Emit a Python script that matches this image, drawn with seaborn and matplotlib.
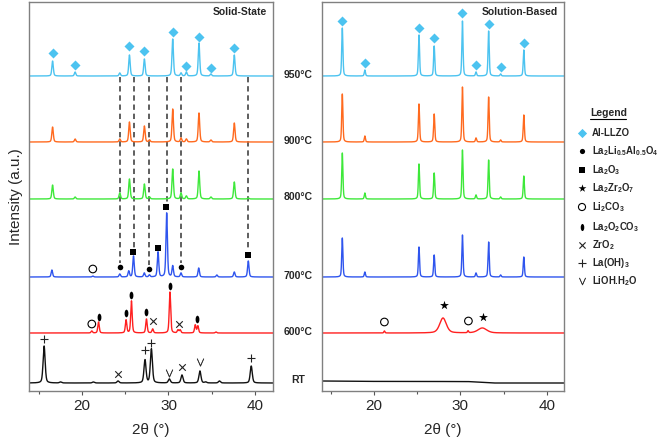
import numpy as np
import pandas as pd
import matplotlib
matplotlib.use("Agg")
import matplotlib.pyplot as plt
import matplotlib.path as mpath
from matplotlib.transforms import Affine2D
import seaborn as sns

# ---- stacking / colours (one entry per pattern, top to bottom) ----
temps = ["950°C", "900°C", "800°C", "700°C", "600°C", "RT"]
colors = ["#4cc3f0", "#ff6a1f", "#3ee83a", "#2f55ee", "#ff2020", "#111111"]
offsets = [315, 249, 192, 114, 58, 8]

# ---- solid-state peaks (2theta, height) ----
ss_950_pos = [16.58, 19.19, 24.36, 25.48, 27.21, 30.49, 31.45, 32.07, 33.53, 34.91, 37.62]
ss_950_h = [15, 4, 3, 21, 17, 37, 3, 4, 33, 2, 21]
ss_900_pos = [16.58, 19.19, 24.36, 25.48, 27.21, 27.8, 30.49, 31.45, 32.07, 33.53, 34.91, 37.62]
ss_900_h = [15, 3, 3, 20, 16, 2, 33, 4, 3, 29, 2, 19]
ss_800_pos = [16.58, 19.19, 24.36, 25.48, 27.21, 27.8, 30.49, 31.45, 32.07, 33.53, 34.91, 37.62, 39.24]
ss_800_h = [14, 2, 6, 20, 15, 2, 30, 6, 3, 28, 2, 17, 1]
ss_700_pos = [16.5, 21.24, 24.36, 25.4, 25.95, 27.2, 27.79, 28.79, 29.79, 30.49, 31.45, 33.5, 35.6, 37.62, 39.24]
ss_700_h = [7, 1, 3, 6, 21, 4, 2, 25, 64, 11, 4, 9, 2, 5, 16]
ss_600_pos = [21.12, 21.9, 25.09, 25.71, 27.45, 28.17, 30.17, 31.1, 31.35, 33.1, 33.4, 35.5]
ss_600_h = [2, 11, 13, 32, 14, 4, 41, 3, 3, 8, 7, 1]
ss_rt_pos = [15.6, 17.5, 21.3, 24.16, 27.28, 28.02, 30.1, 31.56, 33.64, 34.3, 35.9, 39.58]
ss_rt_h = [37, 1, 1, 2, 23, 34, 4, 8, 12, 1, 2, 17]

# ---- solution-based peaks ----
sb_llzo_pos = [16.35, 18.96, 25.22, 26.98, 30.25, 31.82, 33.28, 34.67, 37.35]
sb_950_h = [48, 6, 41, 30, 55, 4, 45, 2, 26]
sb_900_h = [48, 6, 38, 28, 55, 4, 45, 2, 27]
sb_800_h = [46, 6, 35, 26, 49, 4, 39, 2, 23]
sb_700_h = [39, 5, 30, 22, 42, 4, 35, 2, 20]
sb_600_pos = [21.22, 28.0, 30.9, 32.55]
sb_600_h = [2, 15, 2, 5]
sb_600_w = [0.15, 0.9, 0.15, 1.2]
sb_rt_bg_x = [14.0, 20.0, 28.0, 31.0, 34.0, 42.0]
sb_rt_bg_y = [2.0, 1.6, 1.5, 1.4, 0.0, 0.0]

# ---- phase markers (2theta, height above that pattern's baseline) ----
ss_llzo_x = [16.58, 19.19, 25.48, 27.21, 30.49, 32.07, 33.53, 34.91, 37.62]
ss_llzo_y = [23, 11, 30, 25, 44, 10, 39, 8, 28]
sb_llzo_x = [16.35, 18.96, 25.22, 26.98, 30.25, 31.82, 33.28, 34.67, 37.35]
sb_llzo_y = [55, 13, 48, 38, 63, 11, 52, 9, 33]
ss_lialo_x = [24.36, 27.79, 31.45]
ss_lialo_y = [10, 8, 10]
ss_la2o3_x = [25.94, 28.79, 29.76, 39.24]
ss_la2o3_y = [25, 29, 70, 22]
ss_li2co3_700_x = [21.24]
ss_li2co3_700_y = [8]
ss_li2co3_600_x = [21.12]
ss_li2co3_600_y = [9]
ss_la2o2co3_x = [21.9, 25.09, 25.71, 27.45, 30.17, 33.3]
ss_la2o2co3_y = [16, 20, 38, 21, 47, 14]
ss_zro2_600_x = [28.17, 31.21]
ss_zro2_600_y = [12, 9]
ss_zro2_rt_x = [24.16, 31.56]
ss_zro2_rt_y = [9, 16]
ss_laoh3_x = [15.6, 27.28, 28.02, 39.58]
ss_laoh3_y = [44, 33, 40, 25]
ss_lioh_x = [30.1, 33.64]
ss_lioh_y = [10, 21]
sb_la2zr2o7_x = [28.1, 32.63]
sb_la2zr2o7_y = [28, 16]
sb_li2co3_x = [21.22, 30.94]
sb_li2co3_y = [11, 12]

# dashed guides (solid-state): from 950°C baseline down to the 700°C markers
guide_x = [24.36, 25.98, 27.79, 29.79, 31.45, 39.24]
guide_bottom = [14, 29, 12, 74, 14, 26]

legend_labels = ["Al-LLZO", "La$_2$Li$_{0.5}$Al$_{0.5}$O$_4$", "La$_2$O$_3$",
                 "La$_2$Zr$_2$O$_7$", "Li$_2$CO$_3$", "La$_2$O$_2$CO$_3$",
                 "ZrO$_2$", "La(OH)$_3$", "LiOH.H$_2$O"]


def pattern(grid, pos, h, w):
    y = np.zeros_like(grid)
    for p, a, fw in zip(pos, h, w):
        g = np.exp(-4 * np.log(2) * ((grid - p) / fw) ** 2)
        lz = 1 / (1 + ((grid - p) / (fw / 2)) ** 2)
        y += a * (0.6 * g + 0.4 * lz)
    return y


sns.set_theme(style="white")
plt.rcParams["font.family"] = ["Liberation Sans", "DejaVu Sans"]
plt.rcParams["mathtext.fontset"] = "custom"
plt.rcParams["mathtext.rm"] = "Liberation Sans:bold"
plt.rcParams["mathtext.it"] = "Liberation Sans:bold"
plt.rcParams["mathtext.bf"] = "Liberation Sans:bold"

fig = plt.figure(figsize=(6.63, 4.4), dpi=100)
ax_l = fig.add_axes([29 / 663, 49 / 440, 244 / 663, 389 / 440])
ax_r = fig.add_axes([322 / 663, 49 / 440, 242 / 663, 389 / 440])

grid_l = np.linspace(13.5, 42.5, 5000)
grid_r = np.linspace(13.5, 42.5, 5000)

ss_sets = [(ss_950_pos, ss_950_h), (ss_900_pos, ss_900_h), (ss_800_pos, ss_800_h),
           (ss_700_pos, ss_700_h), (ss_600_pos, ss_600_h), (ss_rt_pos, ss_rt_h)]
rows = []
for t, (p, h), off in zip(temps, ss_sets, offsets):
    w = [0.28 if t == "RT" else 0.2] * len(p)
    rows.append(pd.DataFrame({"tt": grid_l, "I": off + pattern(grid_l, p, h, w), "temp": t}))
df_ss = pd.concat(rows)

sb_sets = [(sb_llzo_pos, sb_950_h, [0.16] * 9), (sb_llzo_pos, sb_900_h, [0.16] * 9),
           (sb_llzo_pos, sb_800_h, [0.16] * 9), (sb_llzo_pos, sb_700_h, [0.16] * 9),
           (sb_600_pos, sb_600_h, sb_600_w)]
rows = []
for t, (p, h, w), off in zip(temps[:5], sb_sets, offsets[:5]):
    rows.append(pd.DataFrame({"tt": grid_r, "I": off + pattern(grid_r, p, h, w), "temp": t}))
rows.append(pd.DataFrame({"tt": sb_rt_bg_x, "I": np.array(sb_rt_bg_y) + offsets[5], "temp": "RT"}))
df_sb = pd.concat(rows)

pal = dict(zip(temps, colors))

# guides behind the curves
for gx, gb in zip(guide_x, guide_bottom):
    ax_l.plot([gx, gx], [offsets[0] - 1, offsets[3] + gb], color="#333333",
              lw=1.1, ls=(0, (3.5, 2.5)), zorder=1)

for ax, df in [(ax_l, df_ss), (ax_r, df_sb)]:
    sns.lineplot(data=df, x="tt", y="I", hue="temp", palette=pal, estimator=None,
                 sort=False, lw=1.0, legend=False, ax=ax, zorder=2)

lens = mpath.Path.unit_circle().transformed(Affine2D().scale(0.5, 1.0))


def mark(ax, xs, ys, off, **kw):
    ax.scatter(xs, np.array(ys) + off, zorder=5, **kw)


diamond_kw = dict(marker="D", s=26, color=colors[0], linewidths=0)
mark(ax_l, ss_llzo_x, ss_llzo_y, offsets[0], **diamond_kw)
mark(ax_r, sb_llzo_x, sb_llzo_y, offsets[0], **diamond_kw)
mark(ax_l, ss_lialo_x, ss_lialo_y, offsets[3], marker="o", s=16, color="black", linewidths=0)
mark(ax_l, ss_la2o3_x, ss_la2o3_y, offsets[3], marker="s", s=22, color="black", linewidths=0)
open_kw = dict(marker="o", s=30, facecolors="none", edgecolors="black", linewidths=0.8)
mark(ax_l, ss_li2co3_700_x, ss_li2co3_700_y, offsets[3], **open_kw)
mark(ax_l, ss_li2co3_600_x, ss_li2co3_600_y, offsets[4], **open_kw)
mark(ax_r, sb_li2co3_x, sb_li2co3_y, offsets[4], **open_kw)
mark(ax_l, ss_la2o2co3_x, ss_la2o2co3_y, offsets[4], marker=lens, s=30, color="black", linewidths=0)
mark(ax_l, ss_zro2_600_x, ss_zro2_600_y, offsets[4], marker="x", s=22, color="#222222", linewidths=0.8)
mark(ax_l, ss_zro2_rt_x, ss_zro2_rt_y, offsets[5], marker="x", s=22, color="#222222", linewidths=0.8)
mark(ax_l, ss_laoh3_x, ss_laoh3_y, offsets[5], marker="+", s=40, color="#222222", linewidths=0.8)
mark(ax_l, ss_lioh_x, ss_lioh_y, offsets[5], marker=r"$\vee$", s=30, color="#222222", linewidths=0.3)
mark(ax_r, sb_la2zr2o7_x, sb_la2zr2o7_y, offsets[4], marker="*", s=45, color="black", linewidths=0)

for ax, lim in [(ax_l, (13.85, 42.1)), (ax_r, (14.0, 42.0))]:
    ax.set_xlim(*lim)
    ax.set_ylim(0, 389)
    ax.set_xticks([20, 30, 40])
    ax.set_xticks([15, 25, 35], minor=True)
    ax.set_yticks([])
    ax.tick_params(axis="x", which="major", direction="out", length=3, width=0.8,
                   color="#555555", labelsize=11, pad=3, bottom=True)
    ax.tick_params(axis="x", which="minor", direction="out", length=2, width=0.8,
                   color="#555555", bottom=True)
    for s in ax.spines.values():
        s.set_color("#808080")
        s.set_linewidth(1.0)
    ax.set_xlabel("2θ (°)", fontsize=11, labelpad=7)
    ax.set_ylabel("")

ax_l.set_ylabel("Intensity (a.u.)", fontsize=11, labelpad=4)

fig.text(267 / 663, 1 - 12 / 440, "Solid-State", ha="right", va="center",
         fontsize=7.5, fontweight="bold")
fig.text(558 / 663, 1 - 12 / 440, "Solution-Based", ha="right", va="center",
         fontsize=7.5, fontweight="bold")

temp_y = [75, 141, 197, 276, 332, 380]
for t, ty in zip(temps, temp_y):
    fig.text(298 / 663, 1 - ty / 440, t, ha="center", va="center",
             fontsize=7.5, fontweight="bold")

# legend panel drawn in figure pixel space
leg = fig.add_axes([0, 0, 1, 1], zorder=10)
leg.set_xlim(0, 663)
leg.set_ylim(440, 0)
leg.axis("off")
leg.text(590, 113, "Legend", ha="left", va="center", fontsize=7.5, fontweight="bold")
leg.plot([590, 626], [119, 119], color="black", lw=0.8)
leg_y = [133, 151, 170, 188, 207, 227, 245, 263, 281]
leg_m = [dict(marker="D", s=22, color=colors[0], linewidths=0),
         dict(marker="o", s=14, color="black", linewidths=0),
         dict(marker="s", s=18, color="black", linewidths=0),
         dict(marker="*", s=35, color="black", linewidths=0),
         dict(marker="o", s=26, facecolors="none", edgecolors="black", linewidths=0.8),
         dict(marker=lens, s=26, color="black", linewidths=0),
         dict(marker="x", s=20, color="#222222", linewidths=0.8),
         dict(marker="+", s=36, color="#222222", linewidths=0.8),
         dict(marker=r"$\vee$", s=26, color="#222222", linewidths=0.3)]
for ly, lab, mk in zip(leg_y, legend_labels, leg_m):
    leg.scatter([582], [ly], **mk)
    leg.text(592, ly, lab, ha="left", va="center", fontsize=6.9, fontweight="bold")

fig.savefig("out.png", dpi=100)
